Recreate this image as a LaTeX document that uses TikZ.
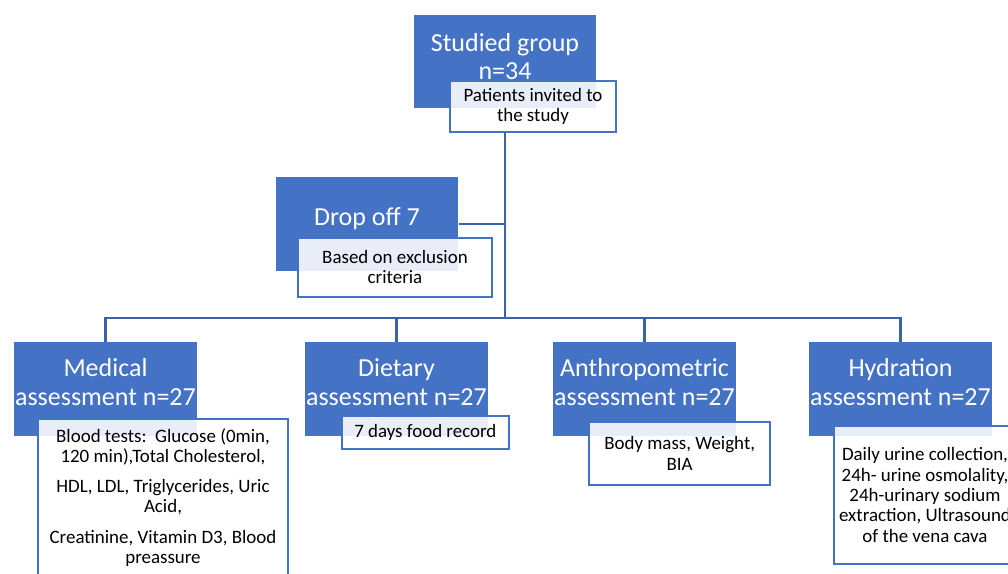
\documentclass[tikz,border=0pt]{standalone}
\usepackage{fontspec}
\setmainfont{Carlito}
\usepackage{xcolor}
\usepackage{tikz}
\definecolor{accent}{HTML}{4472C4}
\definecolor{linkblue}{HTML}{3A62AC}

\begin{document}
\begin{tikzpicture}[x=0.75pt, y=-0.75pt,
  grp/.style={rectangle, fill=accent, minimum width=137pt, minimum height=70pt},
  gtxt/.style={text=white, align=center, inner sep=0pt, yshift=5.25pt,
               font=\fontsize{19.5}{21.5}\selectfont},
  note/.style={rectangle, draw=accent, line width=1.5pt, anchor=north west,
               fill=white, fill opacity=0.88, text opacity=1, align=center,
               inner sep=2pt, font=\fontsize{14.2}{15.2}\selectfont},
  conn/.style={draw=linkblue, line width=1.6pt}]
  \useasboundingbox (0,0) rectangle (1008,574);
  \node[grp, label={[gtxt, yshift=-1.5pt]center:Studied group\\n=34}] (SG) at (505,61.5) {};
  \node[note, minimum width=124.5pt, minimum height=38pt] (PI) at (449,80)
    {Patients invited to\\the study};
  \node[grp, label={[gtxt, yshift=-1.5pt]center:Drop off 7}] (DO) at (367,224) {};
  \node[note, minimum width=145.5pt, minimum height=44pt] (BE) at (297,237)
    {Based on exclusion\\criteria};
  \node[grp, label={[gtxt]center:Medical\\assessment n=27}] (MA) at (105.5,389) {};
  \node[grp, label={[gtxt]center:Dietary\\assessment n=27}] (DA) at (396.5,389) {};
  \node[grp, label={[gtxt]center:Anthropometric\\assessment n=27}] (AA) at (644.5,389) {};
  \node[grp, label={[gtxt]center:Hydration\\assessment n=27}] (HA) at (900.5,389) {};
  \node[note, minimum width=187.5pt, inner ysep=7pt] (MN) at (37,418)
    {Blood tests:\ \ Glucose (0min,\\120 min),Total Cholesterol,\\[7.5pt]
     HDL, LDL, Triglycerides, Uric\\Acid,\\[7.5pt]
     Creatinine, Vitamin D3, Blood\\preassure};
  \node[note, minimum width=125pt, minimum height=25pt] (DN) at (341,415)
    {7 days food record};
  \node[note, minimum width=136pt, minimum height=47pt] (AN) at (588,421)
    {Body mass, Weight,\\BIA};
  \node[note, minimum width=136.5pt, minimum height=103.5pt] (HN) at (833,425)
    {Daily urine collection,\\24h- urine osmolality,\\24h-urinary sodium\\
     extraction, Ultrasound\\of the vena cava};
  \coordinate (hub) at (505,318);
  \draw[conn] (SG |- PI.south) -- (hub);
  \draw[conn] (DO.east) -- (DO.east -| hub);
  \draw[conn] (hub) -| (MA.north);
  \draw[conn] (hub) -| (DA.north);
  \draw[conn] (hub) -| (AA.north);
  \draw[conn] (hub) -| (HA.north);
\end{tikzpicture}
\end{document}
